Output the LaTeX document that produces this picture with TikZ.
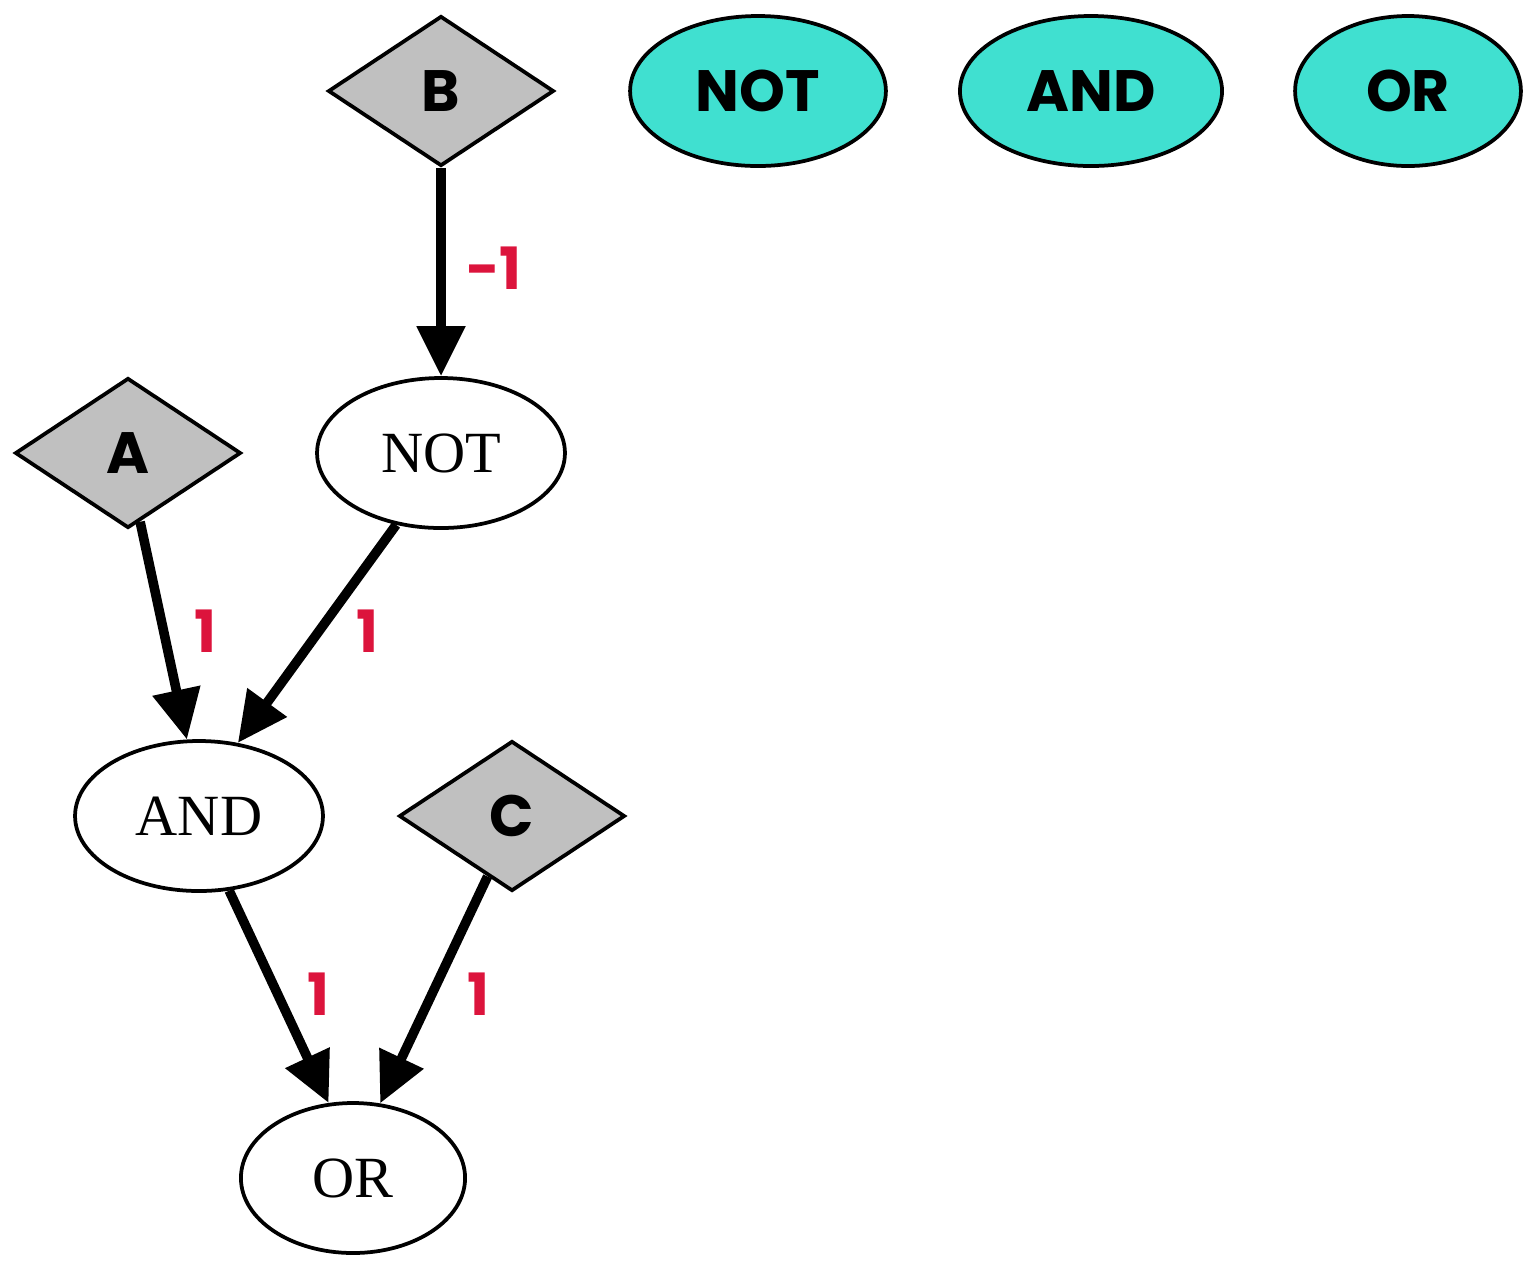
\documentclass[tikz,border=0pt]{standalone}
\usepackage{fontspec}
\setmainfont{Liberation Serif}
\newfontfamily\popb{Poppins}
\usetikzlibrary{shapes.geometric,arrows.meta}
\definecolor{silver}{HTML}{C0C0C0}
\definecolor{turq}{HTML}{40E0D0}
\definecolor{crim}{HTML}{DC143C}
\begin{document}
\begin{tikzpicture}[x=0.24pt,y=-0.24pt,
  every node/.style={inner sep=0pt},
  inputbox/.style={diamond,draw,line width=0.9pt,fill=silver,
    minimum width=54.2pt,minimum height=36pt,
    font=\fontsize{14}{16}\popb\bfseries},
  gatebox/.style={ellipse,draw,line width=0.9pt,minimum height=36pt,
    font=\fontsize{14}{16}\selectfont},
  keybox/.style={ellipse,draw,line width=0.9pt,fill=turq,minimum height=36pt,
    font=\fontsize{14}{16}\popb\bfseries},
  wire/.style={line width=2.3pt,-{Triangle[length=12pt,width=11.2pt]}},
  weight/.style={text=crim,font=\fontsize{14}{16}\popb\bfseries}]
\useasboundingbox (0,0) rectangle (1538,1271);

% legend of gate kinds
\node[keybox,minimum width=61.4pt] (kNOT) at (758,91) {NOT};
\node[keybox,minimum width=62.9pt] (kAND) at (1091,91) {AND};
\node[keybox,minimum width=54.2pt] (kOR) at (1408,91) {OR};

% inputs
\node[inputbox] (B) at (441,91) {B};
\node[inputbox] (A) at (128,453) {A};
\node[inputbox] (C) at (512,816) {C};

% gates
\node[gatebox,minimum width=59.5pt] (NOT) at (441,453) {NOT};
\node[gatebox,minimum width=59.5pt] (AND) at (199,816) {AND};
\node[gatebox,minimum width=53.8pt] (OR) at (353,1178) {OR};

% weighted wires
\draw[wire] (B) -- (NOT);
\draw[wire] (A.280.7) -- (AND.99.6);
\draw[wire] (NOT.238.6) -- (AND.62.5);
\draw[wire] (AND.292.1) -- (OR.108.9);
\draw[wire] (C.248.2) -- (OR.70.3);

\node[weight] (wB) at (494,268) {-1};
\node[weight] (wA) at (205,631) {1};
\node[weight] (wN) at (367,631) {1};
\node[weight] (wD) at (318,994) {1};
\node[weight] (wC) at (478,994) {1};
\end{tikzpicture}
\end{document}
